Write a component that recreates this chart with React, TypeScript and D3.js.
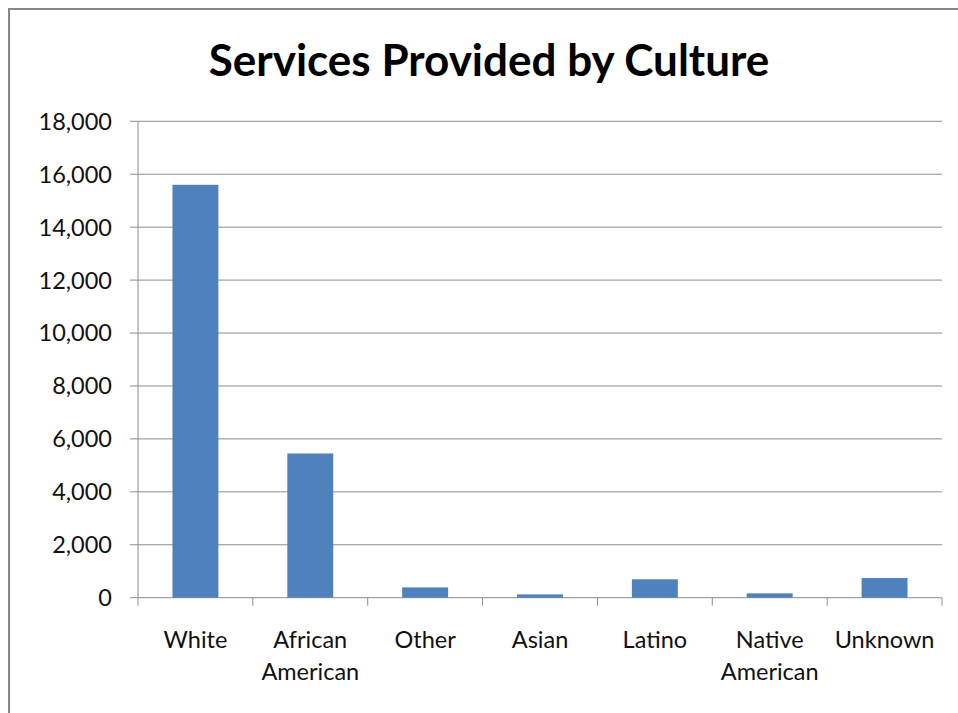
import React from "react";
import * as d3 from "d3";

const categories: string[][] = [
  ["White"],
  ["African", "American"],
  ["Other"],
  ["Asian"],
  ["Latino"],
  ["Native", "American"],
  ["Unknown"],
];
const values: number[] = [15600, 5450, 390, 125, 695, 165, 745];
const yTicks: number[] = [0, 2000, 4000, 6000, 8000, 10000, 12000, 14000, 16000, 18000];
const title = "Services Provided by Culture";

const W = 958;
const H = 713;
const left = 138;
const right = 942;
const top = 121.3;
const bottom = 597.7;
const FONT = "Lato, 'Open Sans', sans-serif";

export default function App() {
  const keys = categories.map((c) => c.join(" "));
  const x = d3.scaleBand<string>().domain(keys).range([left, right]).paddingInner(0.6).paddingOuter(0.3);
  const band = d3.scaleBand<string>().domain(keys).range([left, right]);
  const y = d3.scaleLinear().domain([0, 18000]).range([bottom, top]);
  const fmt = d3.format(",");
  return (
    <div style={{ position: "absolute", left: 0, top: 0 }}>
      <svg width={W} height={H} style={{ display: "block" }}>
        <rect x={0} y={0} width={W} height={H} fill="#fff" />
        <rect x={9} y={9} width={1000} height={800} fill="none" stroke="#878787" strokeWidth={2} />
        <text x={489} y={76} textAnchor="middle" fontFamily={FONT} fontWeight={700} fontSize={44} fill="#000">
          {title}
        </text>
        {yTicks.map((t) => (
          <g key={t}>
            {t > 0 && (
              <line x1={left} x2={right} y1={y(t)} y2={y(t)} stroke="#8c8c8c" strokeWidth={1} />
            )}
            <line x1={left - 8} x2={left} y1={y(t)} y2={y(t)} stroke="#8c8c8c" strokeWidth={1} />
            <text x={112} y={y(t)} dy="0.36em" textAnchor="end" fontFamily={FONT} fontSize={23.5} fill="#111">
              {fmt(t)}
            </text>
          </g>
        ))}
        <line x1={left} x2={left} y1={top} y2={bottom} stroke="#8c8c8c" strokeWidth={1} />
        <line x1={left} x2={right} y1={bottom} y2={bottom} stroke="#8c8c8c" strokeWidth={1} />
        {keys.map((k) => (
          <line key={"t" + k} x1={band(k)!} x2={band(k)!} y1={bottom} y2={bottom + 8} stroke="#8c8c8c" strokeWidth={1} />
        ))}
        <line x1={right} x2={right} y1={bottom} y2={bottom + 8} stroke="#8c8c8c" strokeWidth={1} />
        {keys.map((k, i) => (
          <rect key={"b" + k} x={x(k)!} y={y(values[i])} width={x.bandwidth()} height={bottom - y(values[i])} fill="#4F81BD" />
        ))}
        {categories.map((c, i) => (
          <text key={"l" + i} textAnchor="middle" fontFamily={FONT} fontSize={23.5} fill="#111">
            {c.map((line, j) => (
              <tspan key={j} x={band(keys[i])! + band.bandwidth() / 2} y={648 + j * 32}>
                {line}
              </tspan>
            ))}
          </text>
        ))}
      </svg>
    </div>
  );
}
